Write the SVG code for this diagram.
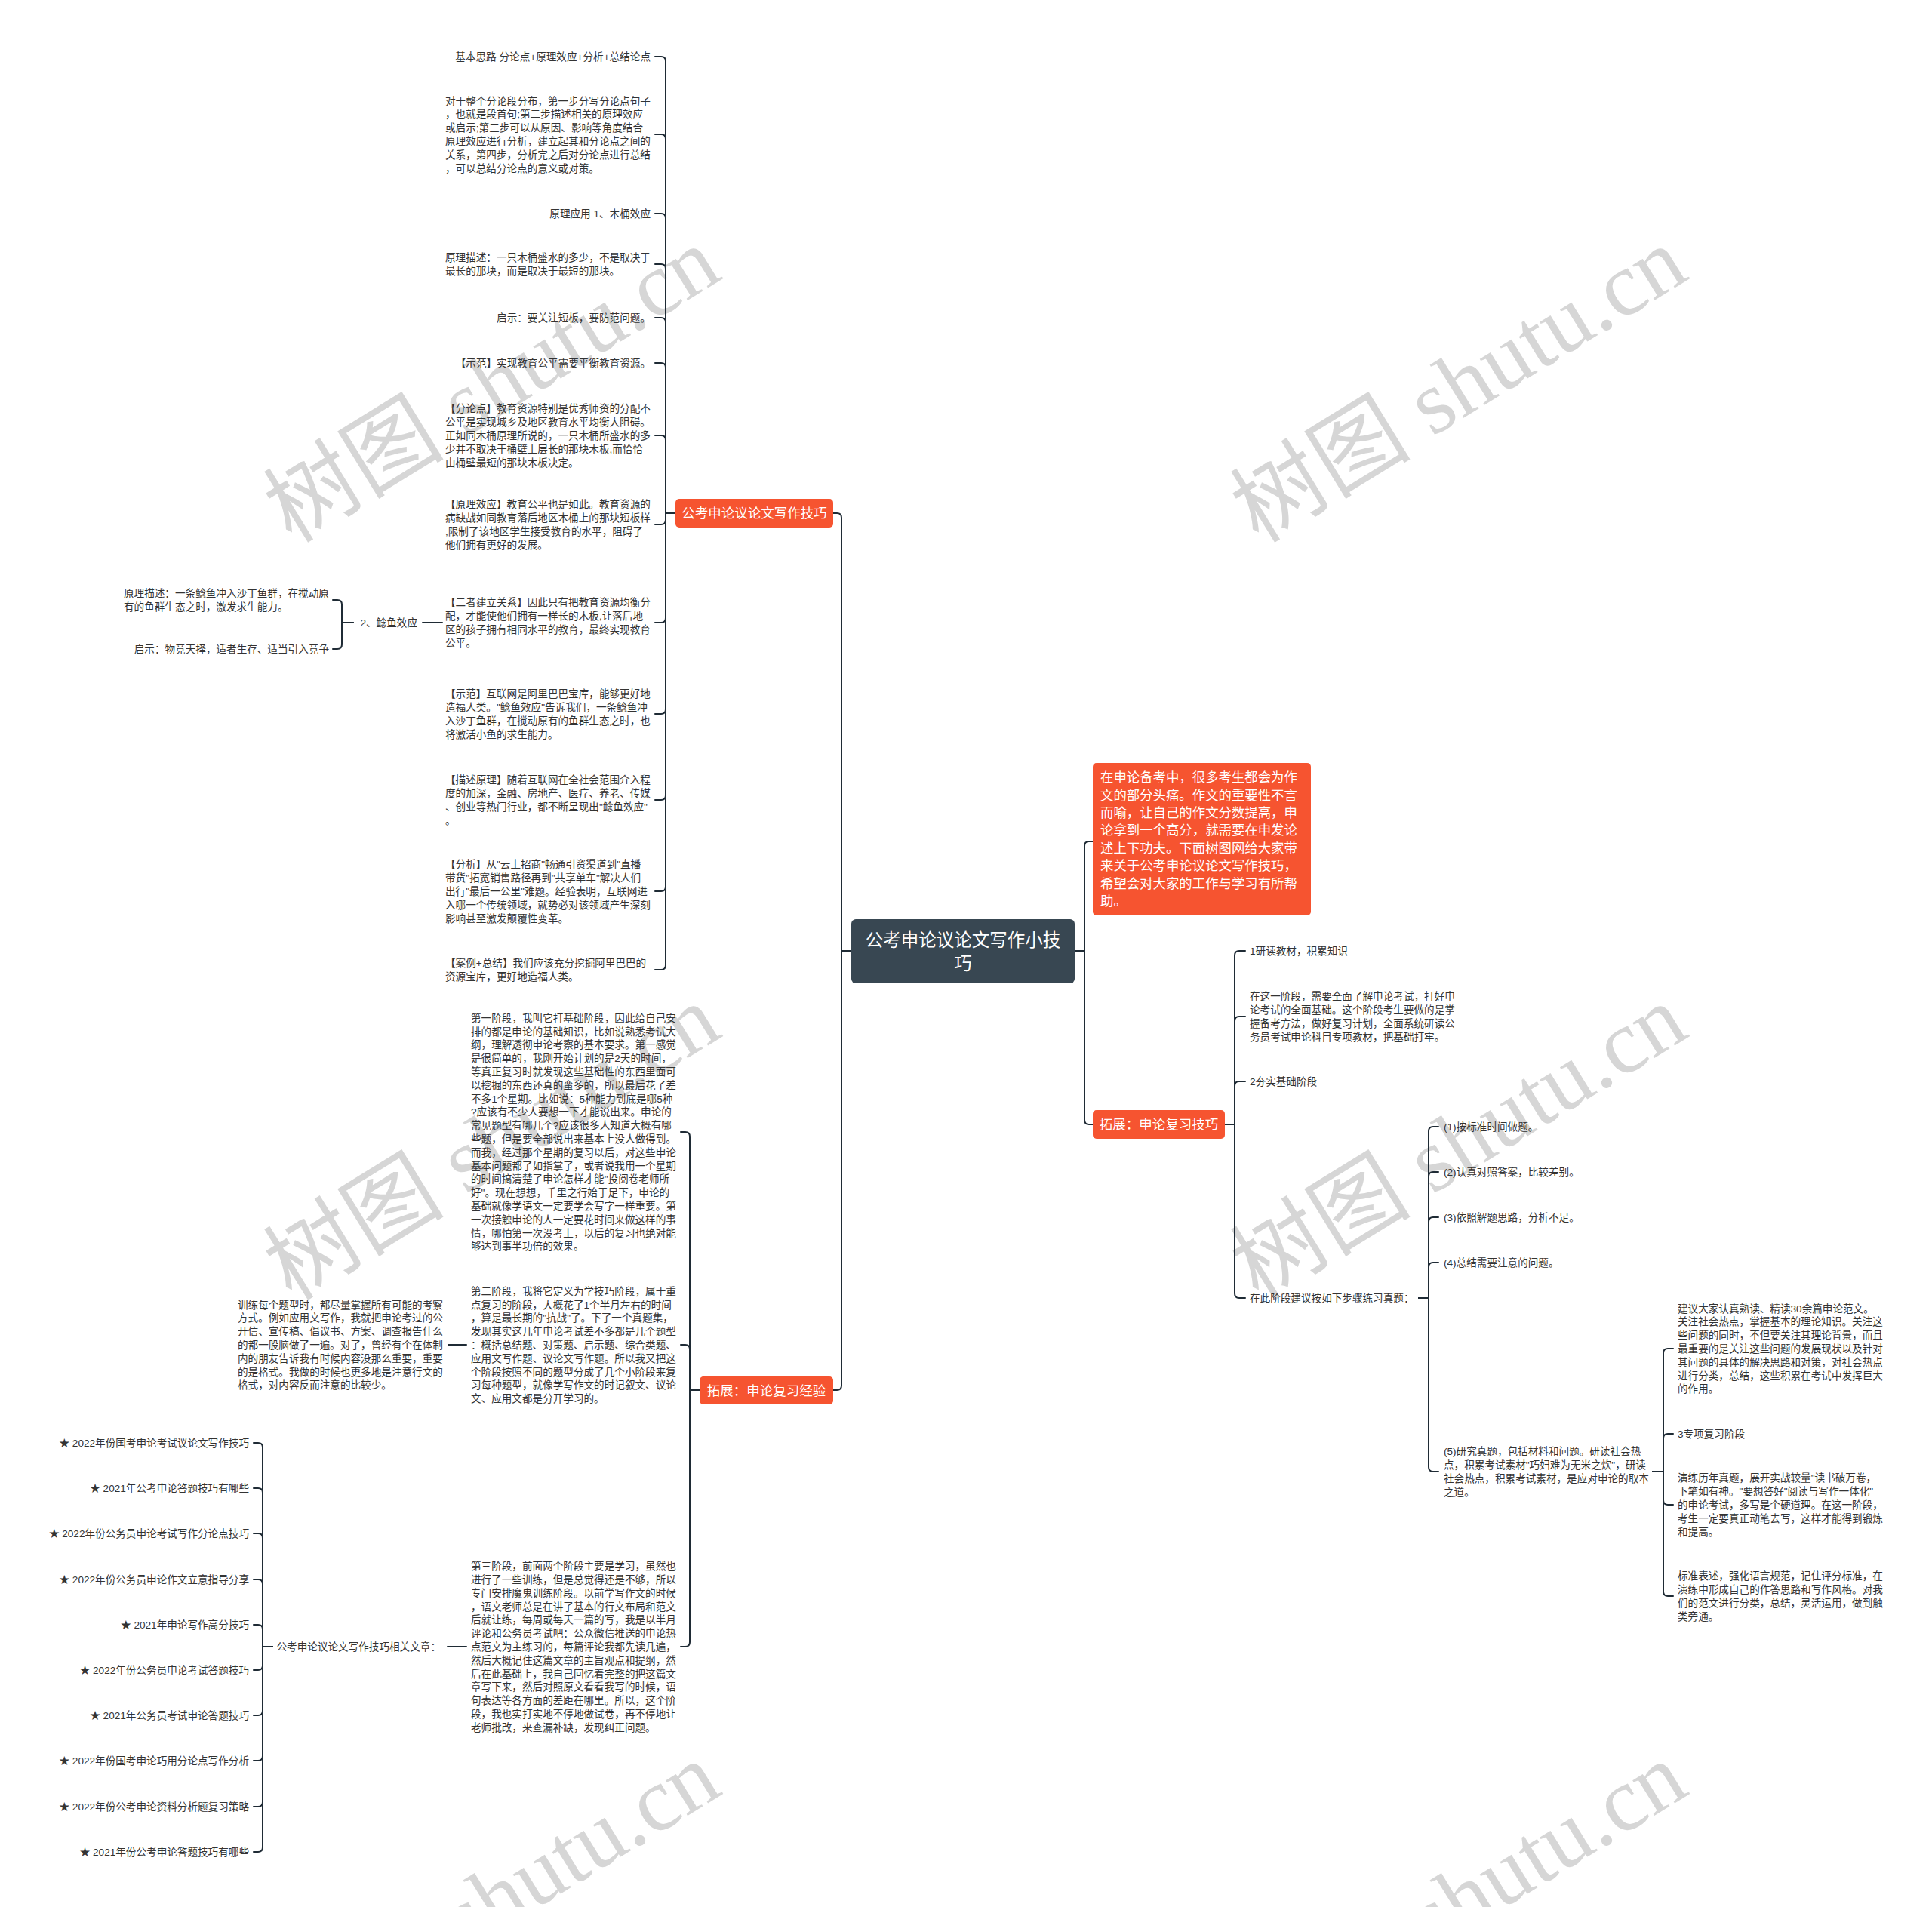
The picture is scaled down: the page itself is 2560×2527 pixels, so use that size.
<svg xmlns="http://www.w3.org/2000/svg" width="2560" height="2527" viewBox="0 0 2560 2527">
<style>
.bg{fill:#ffffff}
.wm{font-family:'Liberation Serif','Noto Sans CJK SC',serif;font-size:120px;fill:#d6d6d6;text-anchor:middle;dominant-baseline:central}
.t{font-family:'Liberation Sans','Noto Sans CJK SC',sans-serif;font-size:13.6px;fill:#333333;dominant-baseline:central}
.r{text-anchor:end}
.c{fill:none;stroke:#1f2b35;stroke-width:2;stroke-linecap:round}
.dark{fill:#384752}
.org{fill:#f65430}
.nt{font-family:'Liberation Sans','Noto Sans CJK SC',sans-serif;fill:#ffffff;dominant-baseline:central}
</style>
<rect class="bg" x="0" y="0" width="2560" height="2527"/>
<g id="watermarks">
<text class="wm" x="652" y="510" transform="rotate(-31.6 652 510)">树图 shutu.cn</text>
<text class="wm" x="1933" y="510" transform="rotate(-31.6 1933 510)">树图 shutu.cn</text>
<text class="wm" x="652" y="1514" transform="rotate(-31.6 652 1514)">树图 shutu.cn</text>
<text class="wm" x="1933" y="1514" transform="rotate(-31.6 1933 1514)">树图 shutu.cn</text>
<text class="wm" x="652" y="2518" transform="rotate(-31.6 652 2518)">树图 shutu.cn</text>
<text class="wm" x="1933" y="2518" transform="rotate(-31.6 1933 2518)">树图 shutu.cn</text>
</g>
<g id="connectors">
<path class="c" d="M1128 1260H1115V686Q1115 680 1109 680H1104"/>
<path class="c" d="M1128 1260H1115V1836Q1115 1842 1109 1842H1104"/>
<path class="c" d="M1424 1260H1437V1121Q1437 1115 1443 1115H1448"/>
<path class="c" d="M1424 1260H1437V1484Q1437 1490 1443 1490H1448"/>
<path class="c" d="M895 680H882V81Q882 75 876 75H868"/>
<path class="c" d="M895 680H882V184Q882 178 876 178H868"/>
<path class="c" d="M895 680H882V289Q882 283 876 283H868"/>
<path class="c" d="M895 680H882V356Q882 350 876 350H868"/>
<path class="c" d="M895 680H882V427Q882 421 876 421H868"/>
<path class="c" d="M895 680H882V487Q882 481 876 481H868"/>
<path class="c" d="M895 680H882V583Q882 577 876 577H868"/>
<path class="c" d="M895 680H882V689Q882 695 876 695H868"/>
<path class="c" d="M895 680H882V819Q882 825 876 825H868"/>
<path class="c" d="M895 680H882V940Q882 946 876 946H868"/>
<path class="c" d="M895 680H882V1054Q882 1060 876 1060H868"/>
<path class="c" d="M895 680H882V1175Q882 1181 876 1181H868"/>
<path class="c" d="M895 680H882V1279Q882 1285 876 1285H868"/>
<path class="c" d="M586 825H560"/>
<path class="c" d="M468 825H453V801Q453 795 447 795H441"/>
<path class="c" d="M468 825H453V854Q453 860 447 860H441"/>
<path class="c" d="M927 1842H914V1506Q914 1500 908 1500H902"/>
<path class="c" d="M927 1842H914V1788Q914 1782 908 1782H902"/>
<path class="c" d="M927 1842H914V2176Q914 2182 908 2182H902"/>
<path class="c" d="M618 1782H594"/>
<path class="c" d="M618 2182H593"/>
<path class="c" d="M361 2182H348V1918Q348 1912 342 1912H336"/>
<path class="c" d="M361 2182H348V1978Q348 1972 342 1972H336"/>
<path class="c" d="M361 2182H348V2038Q348 2032 342 2032H336"/>
<path class="c" d="M361 2182H348V2099Q348 2093 342 2093H336"/>
<path class="c" d="M361 2182H348V2159Q348 2153 342 2153H336"/>
<path class="c" d="M361 2182H348V2207Q348 2213 342 2213H336"/>
<path class="c" d="M361 2182H348V2267Q348 2273 342 2273H336"/>
<path class="c" d="M361 2182H348V2327Q348 2333 342 2333H336"/>
<path class="c" d="M361 2182H348V2388Q348 2394 342 2394H336"/>
<path class="c" d="M361 2182H348V2448Q348 2454 342 2454H336"/>
<path class="c" d="M1623 1490H1636V1266Q1636 1260 1642 1260H1650"/>
<path class="c" d="M1623 1490H1636V1353Q1636 1347 1642 1347H1650"/>
<path class="c" d="M1623 1490H1636V1439Q1636 1433 1642 1433H1650"/>
<path class="c" d="M1623 1490H1636V1714Q1636 1720 1642 1720H1650"/>
<path class="c" d="M1880 1720H1893V1499Q1893 1493 1899 1493H1906"/>
<path class="c" d="M1880 1720H1893V1559Q1893 1553 1899 1553H1906"/>
<path class="c" d="M1880 1720H1893V1619Q1893 1613 1899 1613H1906"/>
<path class="c" d="M1880 1720H1893V1679Q1893 1673 1899 1673H1906"/>
<path class="c" d="M1880 1720H1893V1944Q1893 1950 1899 1950H1906"/>
<path class="c" d="M2190 1950H2204V1793Q2204 1787 2210 1787H2217"/>
<path class="c" d="M2190 1950H2204V1906Q2204 1900 2210 1900H2217"/>
<path class="c" d="M2190 1950H2204V1988Q2204 1994 2210 1994H2217"/>
<path class="c" d="M2190 1950H2204V2109Q2204 2115 2210 2115H2217"/>
</g>
<g id="root">
<rect class="dark" x="1128" y="1218" width="296" height="85" rx="6"/>
<text class="nt" font-size="23.5" text-anchor="middle"><tspan x="1276" y="1246">公考申论议论文写作小技</tspan><tspan x="1276" y="1277">巧</tspan></text>
</g>
<g id="b1">
<rect class="org" x="895" y="661" width="209" height="38" rx="5"/>
<text class="nt" font-size="17.5" text-anchor="middle" x="999.5" y="680">公考申论议论文写作技巧</text>
</g>
<g id="b1-1"><text class="t r" x="862" y="75">基本思路 分论点+原理效应+分析+总结论点</text></g>
<g id="b1-2"><text class="t"><tspan x="590" y="133.5">对于整个分论段分布，第一步分写分论点句子</tspan><tspan x="590" dy="17.8">，也就是段首句;第二步描述相关的原理效应</tspan><tspan x="590" dy="17.8">或启示;第三步可以从原因、影响等角度结合</tspan><tspan x="590" dy="17.8">原理效应进行分析，建立起其和分论点之间的</tspan><tspan x="590" dy="17.8">关系，第四步，分析完之后对分论点进行总结</tspan><tspan x="590" dy="17.8">，可以总结分论点的意义或对策。</tspan></text></g>
<g id="b1-3"><text class="t r" x="862" y="283">原理应用 1、木桶效应</text></g>
<g id="b1-4"><text class="t"><tspan x="590" y="341.1">原理描述：一只木桶盛水的多少，不是取决于</tspan><tspan x="590" dy="17.8">最长的那块，而是取决于最短的那块。</tspan></text></g>
<g id="b1-5"><text class="t r" x="862" y="421">启示：要关注短板，要防范问题。</text></g>
<g id="b1-6"><text class="t r" x="862" y="481">【示范】实现教育公平需要平衡教育资源。</text></g>
<g id="b1-7"><text class="t"><tspan x="590" y="541.4">【分论点】教育资源特别是优秀师资的分配不</tspan><tspan x="590" dy="17.8">公平是实现城乡及地区教育水平均衡大阻碍。</tspan><tspan x="590" dy="17.8">正如同木桶原理所说的，一只木桶所盛水的多</tspan><tspan x="590" dy="17.8">少并不取决于桶壁上层长的那块木板,而恰恰</tspan><tspan x="590" dy="17.8">由桶壁最短的那块木板决定。</tspan></text></g>
<g id="b1-8"><text class="t"><tspan x="590" y="668.3">【原理效应】教育公平也是如此。教育资源的</tspan><tspan x="590" dy="17.8">病缺战如同教育落后地区木桶上的那块短板样</tspan><tspan x="590" dy="17.8">,限制了该地区学生接受教育的水平，阻碍了</tspan><tspan x="590" dy="17.8">他们拥有更好的发展。</tspan></text></g>
<g id="b1-9"><text class="t"><tspan x="590" y="798.3">【二者建立关系】因此只有把教育资源均衡分</tspan><tspan x="590" dy="17.8">配，才能使他们拥有一样长的木板,让落后地</tspan><tspan x="590" dy="17.8">区的孩子拥有相同水平的教育，最终实现教育</tspan><tspan x="590" dy="17.8">公平。</tspan></text></g>
<g id="fish"><text class="t r" x="553" y="825">2、鲶鱼效应</text></g>
<g id="fish-1"><text class="t"><tspan x="164" y="786.1">原理描述：一条鲶鱼冲入沙丁鱼群，在搅动原</tspan><tspan x="164" dy="17.8">有的鱼群生态之时，激发求生能力。</tspan></text></g>
<g id="fish-2"><text class="t r" x="436" y="860">启示：物竞天择，适者生存、适当引入竞争</text></g>
<g id="b1-10"><text class="t"><tspan x="590" y="919.3">【示范】互联网是阿里巴巴宝库，能够更好地</tspan><tspan x="590" dy="17.8">造福人类。"鲶鱼效应"告诉我们，一条鲶鱼冲</tspan><tspan x="590" dy="17.8">入沙丁鱼群，在搅动原有的鱼群生态之时，也</tspan><tspan x="590" dy="17.8">将激活小鱼的求生能力。</tspan></text></g>
<g id="b1-11"><text class="t"><tspan x="590" y="1033.3">【描述原理】随着互联网在全社会范围介入程</tspan><tspan x="590" dy="17.8">度的加深，金融、房地产、医疗、养老、传媒</tspan><tspan x="590" dy="17.8">、创业等热门行业，都不断呈现出"鲶鱼效应"</tspan><tspan x="590" dy="17.8">。</tspan></text></g>
<g id="b1-12"><text class="t"><tspan x="590" y="1145.4">【分析】从"云上招商"畅通引资渠道到"直播</tspan><tspan x="590" dy="17.8">带货"拓宽销售路径再到"共享单车"解决人们</tspan><tspan x="590" dy="17.8">出行"最后一公里"难题。经验表明，互联网进</tspan><tspan x="590" dy="17.8">入哪一个传统领域，就势必对该领域产生深刻</tspan><tspan x="590" dy="17.8">影响甚至激发颠覆性变革。</tspan></text></g>
<g id="b1-13"><text class="t"><tspan x="590" y="1276.1">【案例+总结】我们应该充分挖掘阿里巴巴的</tspan><tspan x="590" dy="17.8">资源宝库，更好地造福人类。</tspan></text></g>
<g id="b2">
<rect class="org" x="927" y="1824" width="177" height="37" rx="5"/>
<text class="nt" font-size="17.5" text-anchor="middle" x="1015.5" y="1842.5">拓展：申论复习经验</text>
</g>
<g id="b2-1"><text class="t"><tspan x="624" y="1348.7">第一阶段，我叫它打基础阶段，因此给自己安</tspan><tspan x="624" dy="17.8">排的都是申论的基础知识，比如说熟悉考试大</tspan><tspan x="624" dy="17.8">纲，理解透彻申论考察的基本要求。第一感觉</tspan><tspan x="624" dy="17.8">是很简单的，我刚开始计划的是2天的时间，</tspan><tspan x="624" dy="17.8">等真正复习时就发现这些基础性的东西里面可</tspan><tspan x="624" dy="17.8">以挖掘的东西还真的蛮多的，所以最后花了差</tspan><tspan x="624" dy="17.8">不多1个星期。比如说：5种能力到底是哪5种</tspan><tspan x="624" dy="17.8">?应该有不少人要想一下才能说出来。申论的</tspan><tspan x="624" dy="17.8">常见题型有哪几个?应该很多人知道大概有哪</tspan><tspan x="624" dy="17.8">些题，但是要全部说出来基本上没人做得到。</tspan><tspan x="624" dy="17.8">而我，经过那个星期的复习以后，对这些申论</tspan><tspan x="624" dy="17.8">基本问题都了如指掌了，或者说我用一个星期</tspan><tspan x="624" dy="17.8">的时间搞清楚了申论怎样才能"投阅卷老师所</tspan><tspan x="624" dy="17.8">好"。现在想想，千里之行始于足下，申论的</tspan><tspan x="624" dy="17.8">基础就像学语文一定要学会写字一样重要。第</tspan><tspan x="624" dy="17.8">一次接触申论的人一定要花时间来做这样的事</tspan><tspan x="624" dy="17.8">情，哪怕第一次没考上，以后的复习也绝对能</tspan><tspan x="624" dy="17.8">够达到事半功倍的效果。</tspan></text></g>
<g id="b2-2"><text class="t"><tspan x="624" y="1710.8">第二阶段，我将它定义为学技巧阶段，属于重</tspan><tspan x="624" dy="17.8">点复习的阶段，大概花了1个半月左右的时间</tspan><tspan x="624" dy="17.8">，算是最长期的"抗战"了。下了一个真题集，</tspan><tspan x="624" dy="17.8">发现其实这几年申论考试差不多都是几个题型</tspan><tspan x="624" dy="17.8">：概括总结题、对策题、启示题、综合类题、</tspan><tspan x="624" dy="17.8">应用文写作题、议论文写作题。所以我又把这</tspan><tspan x="624" dy="17.8">个阶段按照不同的题型分成了几个小阶段来复</tspan><tspan x="624" dy="17.8">习每种题型，就像学写作文的时记叙文、议论</tspan><tspan x="624" dy="17.8">文、应用文都是分开学习的。</tspan></text></g>
<g id="b2-2-1"><text class="t"><tspan x="315" y="1728.6">训练每个题型时，都尽量掌握所有可能的考察</tspan><tspan x="315" dy="17.8">方式。例如应用文写作，我就把申论考过的公</tspan><tspan x="315" dy="17.8">开信、宣传稿、倡议书、方案、调查报告什么</tspan><tspan x="315" dy="17.8">的都一股脑做了一遍。对了，曾经有个在体制</tspan><tspan x="315" dy="17.8">内的朋友告诉我有时候内容没那么重要，重要</tspan><tspan x="315" dy="17.8">的是格式。我做的时候也更多地是注意行文的</tspan><tspan x="315" dy="17.8">格式，对内容反而注意的比较少。</tspan></text></g>
<g id="b2-3"><text class="t"><tspan x="624" y="2075.2">第三阶段，前面两个阶段主要是学习，虽然也</tspan><tspan x="624" dy="17.8">进行了一些训练，但是总觉得还是不够，所以</tspan><tspan x="624" dy="17.8">专门安排魔鬼训练阶段。以前学写作文的时候</tspan><tspan x="624" dy="17.8">，语文老师总是在讲了基本的行文布局和范文</tspan><tspan x="624" dy="17.8">后就让练，每周或每天一篇的写，我是以半月</tspan><tspan x="624" dy="17.8">评论和公务员考试吧：公众微信推送的申论热</tspan><tspan x="624" dy="17.8">点范文为主练习的，每篇评论我都先读几遍，</tspan><tspan x="624" dy="17.8">然后大概记住这篇文章的主旨观点和提纲，然</tspan><tspan x="624" dy="17.8">后在此基础上，我自己回忆着完整的把这篇文</tspan><tspan x="624" dy="17.8">章写下来，然后对照原文看看我写的时候，语</tspan><tspan x="624" dy="17.8">句表达等各方面的差距在哪里。所以，这个阶</tspan><tspan x="624" dy="17.8">段，我也实打实地不停地做试卷，再不停地让</tspan><tspan x="624" dy="17.8">老师批改，来查漏补缺，发现纠正问题。</tspan></text></g>
<g id="b2-3-1"><text class="t r" x="584" y="2182">公考申论议论文写作技巧相关文章：</text></g>
<g id="articles">
<text class="t r" x="330" y="1912">★ 2022年份国考申论考试议论文写作技巧</text>
<text class="t r" x="330" y="1972">★ 2021年公考申论答题技巧有哪些</text>
<text class="t r" x="330" y="2032">★ 2022年份公务员申论考试写作分论点技巧</text>
<text class="t r" x="330" y="2093">★ 2022年份公务员申论作文立意指导分享</text>
<text class="t r" x="330" y="2153">★ 2021年申论写作高分技巧</text>
<text class="t r" x="330" y="2213">★ 2022年份公务员申论考试答题技巧</text>
<text class="t r" x="330" y="2273">★ 2021年公务员考试申论答题技巧</text>
<text class="t r" x="330" y="2333">★ 2022年份国考申论巧用分论点写作分析</text>
<text class="t r" x="330" y="2394">★ 2022年份公考申论资料分析题复习策略</text>
<text class="t r" x="330" y="2454">★ 2021年份公考申论答题技巧有哪些</text>
</g>
<g id="intro">
<rect class="org" x="1448" y="1011" width="289" height="202" rx="5"/>
<text class="nt" font-size="17.4"><tspan x="1458" y="1030.1">在申论备考中，很多考生都会为作</tspan><tspan x="1458" dy="23.4">文的部分头痛。作文的重要性不言</tspan><tspan x="1458" dy="23.4">而喻，让自己的作文分数提高，申</tspan><tspan x="1458" dy="23.4">论拿到一个高分，就需要在申发论</tspan><tspan x="1458" dy="23.4">述上下功夫。下面树图网给大家带</tspan><tspan x="1458" dy="23.4">来关于公考申论议论文写作技巧，</tspan><tspan x="1458" dy="23.4">希望会对大家的工作与学习有所帮</tspan><tspan x="1458" dy="23.4">助。</tspan></text>
</g>
<g id="b3">
<rect class="org" x="1448" y="1471" width="175" height="38" rx="5"/>
<text class="nt" font-size="17.5" text-anchor="middle" x="1535.5" y="1490">拓展：申论复习技巧</text>
</g>
<g id="b3-1"><text class="t" x="1656" y="1260">1研读教材，积累知识</text></g>
<g id="b3-2"><text class="t"><tspan x="1656" y="1320.3">在这一阶段，需要全面了解申论考试，打好申</tspan><tspan x="1656" dy="17.8">论考试的全面基础。这个阶段考生要做的是掌</tspan><tspan x="1656" dy="17.8">握备考方法，做好复习计划，全面系统研读公</tspan><tspan x="1656" dy="17.8">务员考试申论科目专项教材，把基础打牢。</tspan></text></g>
<g id="b3-3"><text class="t" x="1656" y="1433">2夯实基础阶段</text></g>
<g id="b3-4"><text class="t" x="1656" y="1720">在此阶段建议按如下步骤练习真题：</text></g>
<g id="s1"><text class="t" x="1913" y="1493">(1)按标准时间做题。</text></g>
<g id="s2"><text class="t" x="1913" y="1553">(2)认真对照答案，比较差别。</text></g>
<g id="s3"><text class="t" x="1913" y="1613">(3)依照解题思路，分析不足。</text></g>
<g id="s4"><text class="t" x="1913" y="1673">(4)总结需要注意的问题。</text></g>
<g id="s5"><text class="t"><tspan x="1913" y="1923.3">(5)研究真题，包括材料和问题。研读社会热</tspan><tspan x="1913" dy="17.8">点，积累考试素材"巧妇难为无米之炊"，研读</tspan><tspan x="1913" dy="17.8">社会热点，积累考试素材，是应对申论的取本</tspan><tspan x="1913" dy="17.8">之道。</tspan></text></g>
<g id="s5-1"><text class="t"><tspan x="2223" y="1733.6">建议大家认真熟读、精读30余篇申论范文。</tspan><tspan x="2223" dy="17.8">关注社会热点，掌握基本的理论知识。关注这</tspan><tspan x="2223" dy="17.8">些问题的同时，不但要关注其理论背景，而且</tspan><tspan x="2223" dy="17.8">最重要的是关注这些问题的发展现状以及针对</tspan><tspan x="2223" dy="17.8">其问题的具体的解决思路和对策，对社会热点</tspan><tspan x="2223" dy="17.8">进行分类，总结，这些积累在考试中发挥巨大</tspan><tspan x="2223" dy="17.8">的作用。</tspan></text></g>
<g id="s5-2"><text class="t" x="2223" y="1900">3专项复习阶段</text></g>
<g id="s5-3"><text class="t"><tspan x="2223" y="1958.4">演练历年真题，展开实战较量"读书破万卷，</tspan><tspan x="2223" dy="17.8">下笔如有神。"要想答好"阅读与写作一体化"</tspan><tspan x="2223" dy="17.8">的申论考试，多写是个硬道理。在这一阶段，</tspan><tspan x="2223" dy="17.8">考生一定要真正动笔去写，这样才能得到锻炼</tspan><tspan x="2223" dy="17.8">和提高。</tspan></text></g>
<g id="s5-4"><text class="t"><tspan x="2223" y="2088.3">标准表述，强化语言规范，记住评分标准，在</tspan><tspan x="2223" dy="17.8">演练中形成自己的作答思路和写作风格。对我</tspan><tspan x="2223" dy="17.8">们的范文进行分类，总结，灵活运用，做到触</tspan><tspan x="2223" dy="17.8">类旁通。</tspan></text></g>
</svg>
